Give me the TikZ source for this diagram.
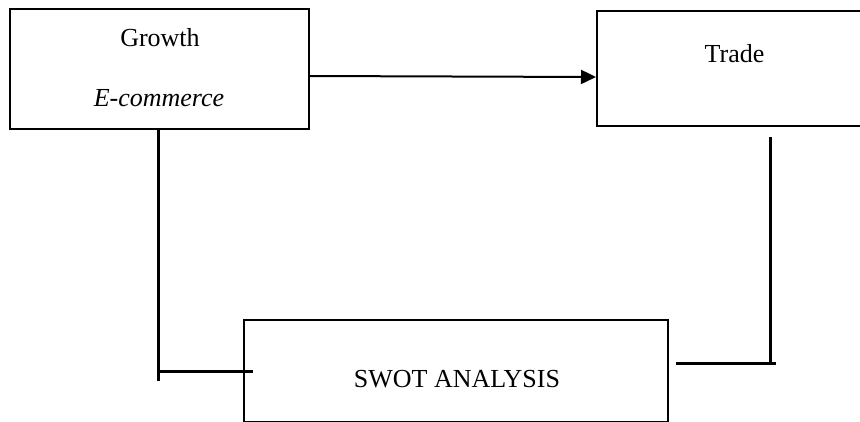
\documentclass[tikz,border=0pt]{standalone}
\usepackage{fontspec}
\setmainfont{Liberation Serif}
\usetikzlibrary{arrows.meta}
\begin{document}
\begin{tikzpicture}[x=1pt,y=-1pt,
  box/.style={draw=black,line width=2pt,rectangle,inner sep=0pt},
  txt/.style={inner sep=0pt,anchor=base,font=\fontsize{26}{30}\selectfont},
  conn/.style={draw=black,line width=3pt},
  arr/.style={draw=black,line width=2pt,-{Triangle[length=15pt,width=14pt]}}]
\useasboundingbox (0,0) rectangle (860,421);
\fill[white] (0,0) rectangle (860,421);
\begin{scope}
\clip (0,0) rectangle (860,421);
% boxes
\node[box,minimum width=299pt,minimum height=120pt] (growth) at (159.5,69) {};
\node[box,minimum width=268pt,minimum height=115pt] (trade) at (731,68.5) {};
\node[box,minimum width=424pt,minimum height=102pt] (swot) at (456,370.5) {};
\end{scope}
% texts
\node[txt] (tgrowth) at (160,46) {Growth};
\node[txt] (tecom) at (159,106) {\itshape E-commerce};
\node[txt] (ttrade) at (734.5,62) {Trade};
\node[txt] (tswot) at (457,387) {SWOT ANALYSIS};
% arrow
\draw[arr] (growth.east |- 0,76) -- (trade.west |- 0,77);
% left connector
\coordinate (l1) at (158,129);
\coordinate (l2) at (158,381);
\coordinate (l3) at (158,371);
\coordinate (l4) at (253,371);
\draw[conn] (l1) -- (l2);
\draw[conn] (l3) -- (l4);
% right connector
\coordinate (r1) at (770,137);
\coordinate (r2) at (770,365);
\coordinate (r3) at (676,363);
\coordinate (r4) at (776,363);
\draw[conn] (r1) -- (r2);
\draw[conn] (r3) -- (r4);
\end{tikzpicture}
\end{document}
